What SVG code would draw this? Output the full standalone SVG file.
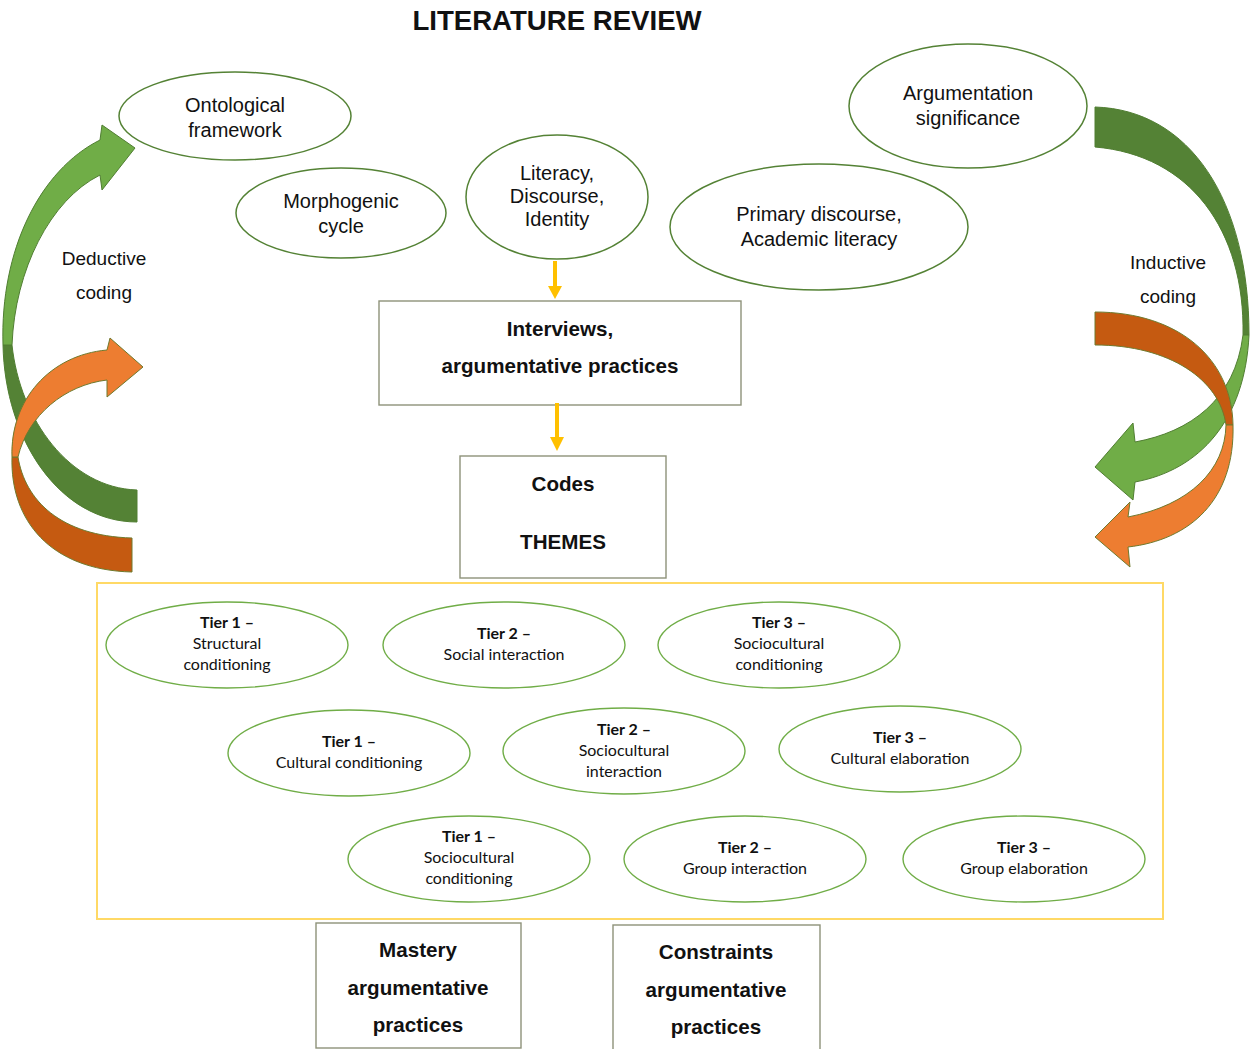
<svg xmlns="http://www.w3.org/2000/svg" width="1250" height="1049" viewBox="0 0 1250 1049">
<style>
.t{font-family:"Liberation Sans",Arial,sans-serif;fill:#111;}
.top{font-size:20px;text-anchor:middle;}
.side{font-size:19px;text-anchor:middle;}
.bold{font-size:20.6px;font-weight:bold;text-anchor:middle;}
.tier{font-family:Lato,"Noto Sans",sans-serif;font-size:16px;fill:#111;text-anchor:middle;}
.tier .b{font-weight:bold;}
.oe{fill:#fff;stroke:#548235;stroke-width:1.5;}
.te{fill:#fff;stroke:#70AD47;stroke-width:1.4;}
.box{fill:#fff;stroke:#8e9279;stroke-width:1.4;}
.gl{fill:#70AD47;stroke:#507E32;stroke-width:1;}
.gd{fill:#548235;stroke:#507E32;stroke-width:1;}
.ol{fill:#ED7D31;stroke:#6f7a2e;stroke-width:1;}
.od{fill:#C55A11;stroke:#6f7a2e;stroke-width:1;}
.ya{stroke:#FFC000;stroke-width:4;fill:none;}
.yh{fill:#FFC000;}
</style>
<rect width="1250" height="1049" fill="#fff"/>
<text class="t" x="557" y="30" font-size="27.6" font-weight="bold" text-anchor="middle">LITERATURE REVIEW</text>

<g id="curved-arrows">
<g id="deductive-green">
<path class="gd" d="M12,345 C20,420 70,488 137,490 L137,522 C60,522 5,440 3,345 Z"/>
<path class="gl" d="M100,140 L102,125 L135,148 L102,190 L100,175 C50,200 15,270 12,345 L3,345 C0,250 40,170 100,140 Z"/>
</g>
<g id="deductive-orange">
<path class="od" d="M18,457 C25,500 60,536 132,538 L132,572 C50,570 10,520 12,457 Z"/>
<path class="ol" d="M107,350 L110,338 L143,367 L107,397 L107,380 C65,385 28,415 18,457 L12,457 C10,400 50,355 107,350 Z"/>
</g>
<g id="inductive-green">
<path class="gd" d="M1095,107 C1190,110 1249,200 1249,335 L1243,335 C1245,230 1190,155 1095,147 Z"/>
<path class="gl" d="M1135,442 L1133,423 L1095,467 L1133,500 L1135,482 C1200,470 1245,420 1249,335 L1243,335 C1235,400 1190,432 1135,442 Z"/>
</g>
<g id="inductive-orange">
<path class="od" d="M1095,312 C1180,312 1232,360 1233,425 L1226,425 C1220,380 1170,345 1095,345 Z"/>
<path class="ol" d="M1128,517 L1130,502 L1095,537 L1130,567 L1128,547 C1190,540 1235,500 1233,425 L1226,425 C1225,470 1190,505 1128,517 Z"/>
</g>
</g>

<g id="label-deductive">
<text class="t side" x="104" y="265">Deductive</text>
<text class="t side" x="104" y="299">coding</text>
</g>
<g id="label-inductive">
<text class="t side" x="1168" y="269">Inductive</text>
<text class="t side" x="1168" y="303">coding</text>
</g>

<g id="node-ontological">
<ellipse class="oe" cx="235" cy="116" rx="116" ry="44"/>
<text class="t top" x="235" y="112">Ontological</text>
<text class="t top" x="235" y="137">framework</text>
</g>
<g id="node-morphogenic">
<ellipse class="oe" cx="341" cy="213" rx="105" ry="45"/>
<text class="t top" x="341" y="208">Morphogenic</text>
<text class="t top" x="341" y="233">cycle</text>
</g>
<g id="node-literacy">
<ellipse class="oe" cx="557" cy="197" rx="91" ry="62"/>
<text class="t top" x="557" y="180">Literacy,</text>
<text class="t top" x="557" y="203">Discourse,</text>
<text class="t top" x="557" y="226">Identity</text>
</g>
<g id="node-argumentation">
<ellipse class="oe" cx="968" cy="106" rx="119" ry="62"/>
<text class="t top" x="968" y="100">Argumentation</text>
<text class="t top" x="968" y="125">significance</text>
</g>
<g id="node-primary">
<ellipse class="oe" cx="819" cy="227" rx="149" ry="63"/>
<text class="t top" x="819" y="221">Primary discourse,</text>
<text class="t top" x="819" y="246">Academic literacy</text>
</g>

<g id="node-interviews">
<rect class="box" x="379" y="301" width="362" height="104"/>
<text class="t bold" x="560" y="336">Interviews,</text>
<text class="t bold" x="560" y="373">argumentative practices</text>
</g>
<g id="node-codes">
<rect class="box" x="460" y="456" width="206" height="122"/>
<text class="t bold" x="563" y="491">Codes</text>
<text class="t bold" x="563" y="549">THEMES</text>
</g>

<g id="connectors">
<line class="ya" x1="555" y1="261" x2="555" y2="288"/>
<polygon class="yh" points="548,286 562,286 555,299"/>
<line class="ya" x1="557" y1="403" x2="557" y2="439"/>
<polygon class="yh" points="550,437 564,437 557,451"/>
</g>

<g id="tiers-frame">
<rect x="97" y="583" width="1066" height="336" fill="none" stroke="#FFD966" stroke-width="2"/>
</g>

<g id="tier1-structural" class="tier">
<ellipse class="te" cx="227" cy="645" rx="121" ry="43"/>
<text class="b" x="227" y="628">Tier 1 –</text>
<text x="227" y="649">Structural</text>
<text x="227" y="670">conditioning</text>
</g>
<g id="tier2-social" class="tier">
<ellipse class="te" cx="504" cy="645" rx="121" ry="43"/>
<text class="b" x="504" y="639">Tier 2 –</text>
<text x="504" y="660">Social interaction</text>
</g>
<g id="tier3-sociocultural-cond" class="tier">
<ellipse class="te" cx="779" cy="645" rx="121" ry="43"/>
<text class="b" x="779" y="628">Tier 3 –</text>
<text x="779" y="649">Sociocultural</text>
<text x="779" y="670">conditioning</text>
</g>
<g id="tier1-cultural" class="tier">
<ellipse class="te" cx="349" cy="753" rx="121" ry="43"/>
<text class="b" x="349" y="747">Tier 1 –</text>
<text x="349" y="768">Cultural conditioning</text>
</g>
<g id="tier2-sociocultural-int" class="tier">
<ellipse class="te" cx="624" cy="751" rx="121" ry="43"/>
<text class="b" x="624" y="735">Tier 2 –</text>
<text x="624" y="756">Sociocultural</text>
<text x="624" y="777">interaction</text>
</g>
<g id="tier3-cultural-elab" class="tier">
<ellipse class="te" cx="900" cy="749" rx="121" ry="43"/>
<text class="b" x="900" y="743">Tier 3 –</text>
<text x="900" y="764">Cultural elaboration</text>
</g>
<g id="tier1-sociocultural-cond" class="tier">
<ellipse class="te" cx="469" cy="859" rx="121" ry="43"/>
<text class="b" x="469" y="842">Tier 1 –</text>
<text x="469" y="863">Sociocultural</text>
<text x="469" y="884">conditioning</text>
</g>
<g id="tier2-group-int" class="tier">
<ellipse class="te" cx="745" cy="859" rx="121" ry="43"/>
<text class="b" x="745" y="853">Tier 2 –</text>
<text x="745" y="874">Group interaction</text>
</g>
<g id="tier3-group-elab" class="tier">
<ellipse class="te" cx="1024" cy="859" rx="121" ry="43"/>
<text class="b" x="1024" y="853">Tier 3 –</text>
<text x="1024" y="874">Group elaboration</text>
</g>

<g id="node-mastery">
<rect class="box" x="316" y="923" width="205" height="125"/>
<text class="t bold" x="418" y="957">Mastery</text>
<text class="t bold" x="418" y="995">argumentative</text>
<text class="t bold" x="418" y="1032">practices</text>
</g>
<g id="node-constraints">
<rect class="box" x="613" y="925" width="207" height="130"/>
<text class="t bold" x="716" y="959">Constraints</text>
<text class="t bold" x="716" y="997">argumentative</text>
<text class="t bold" x="716" y="1034">practices</text>
</g>
</svg>
